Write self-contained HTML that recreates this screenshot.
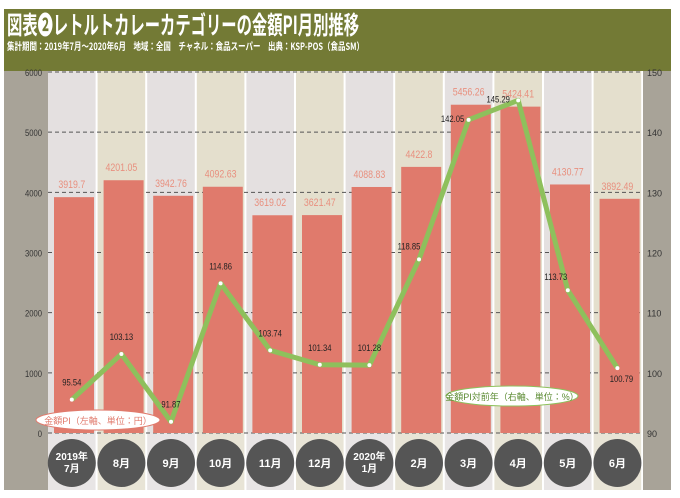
<!DOCTYPE html><html><head><meta charset="utf-8"><style>
body{margin:0;width:680px;height:493px;background:#fff;overflow:hidden;font-family:"Liberation Sans","Noto Sans CJK JP",sans-serif}
</style></head><body>
<svg width="680" height="493" xmlns="http://www.w3.org/2000/svg" font-family="Liberation Sans, Noto Sans CJK JP, sans-serif">
<rect x="4" y="9" width="667" height="62" fill="#737a35"/>
<text x="7" y="34" font-size="25" font-weight="bold" fill="#fff" textLength="352" lengthAdjust="spacingAndGlyphs" font-family="Noto Sans CJK JP, sans-serif">図表❷レトルトカレーカテゴリーの金額PI月別推移</text>
<text x="7" y="50" font-size="10" font-weight="bold" fill="#fff" textLength="357" lengthAdjust="spacingAndGlyphs" font-family="Noto Sans CJK JP, sans-serif">集計期間：2019年7月～2020年6月　地域：全国　チャネル：食品スーパー　出典：KSP-POS（食品SM）</text>
<rect x="4" y="71" width="44" height="419" fill="#a8a398"/>
<rect x="643" y="71" width="28" height="419" fill="#a8a398"/>
<g id="cols"></g>
<g id="grid" stroke="#555" stroke-dasharray="4,3" stroke-width="1"></g>
<g id="bars"></g>
<g id="line"></g>
<g id="lab"></g>
</svg>
<script>
const ns="http://www.w3.org/2000/svg";
function el(p,t,a,txt){const e=document.createElementNS(ns,t);for(const k in a)e.setAttribute(k,a[k]);if(txt!==undefined)e.textContent=txt;document.getElementById(p).appendChild(e);return e;}
const X0=48,W=49.6,Y0=433,PX=361/6000;
const bars=[3919.7,4201.05,3942.76,4092.63,3619.02,3621.47,4088.83,4422.8,5456.26,5424.41,4130.77,3892.49];
const pi=[95.54,103.13,91.87,114.86,103.74,101.34,101.28,118.85,142.05,145.29,113.73,100.79];
const mon=["2019年|7月","8月","9月","10月","11月","12月","2020年|1月","2月","3月","4月","5月","6月"];
for(let i=0;i<12;i++){const x=X0+W*i;
el("cols","rect",{x:x,y:71,width:W-2,height:Y0-71,fill:i%2?"#e4dfcd":"#e4e0e0"});
el("cols","rect",{x:x,y:Y0,width:W-2,height:57,fill:i%2?"#e8e4d6":"#e8e5e5"});
}
for(let v=0;v<=6000;v+=1000){const y=Y0-v*PX;el("grid","line",{x1:X0,x2:643,y1:y,y2:y});
el("lab","text",{x:42,y:y+4,"font-size":9,"text-anchor":"end",fill:"#333",transform:`translate(${42},0) scale(0.85,1) translate(${-42},0)`},v);
el("lab","text",{x:647,y:y+4,"font-size":9,fill:"#333"},90+v/100);}
const pts=[];
for(let i=0;i<12;i++){const x=X0+W*i,cx=x+W/2-1,h=bars[i]*PX;
el("bars","rect",{x:x+6,y:Y0-h,width:40,height:h,fill:"#e07a6c"});
el("lab","text",{x:cx,y:Y0-h-9,"font-size":11,"text-anchor":"middle",fill:"#e8907f",transform:`translate(${cx},0) scale(0.8,1) translate(${-cx},0)`},bars[i]);
const py=Y0-(pi[i]-90)*361/60;pts.push(cx+","+py);
el("lab","circle",{cx:cx,cy:463,r:24,fill:"#555"});
const m=mon[i].split("|");
if(m.length==1)el("lab","text",{x:cx,y:467,"font-size":11,"font-weight":"bold","text-anchor":"middle",fill:"#fff"},m[0]);
else{el("lab","text",{x:cx,y:460,"font-size":10,"font-weight":"bold","text-anchor":"middle",fill:"#fff"},m[0]);el("lab","text",{x:cx,y:472,"font-size":10,"font-weight":"bold","text-anchor":"middle",fill:"#fff"},m[1]);}
}
el("line","polyline",{points:pts.join(" "),fill:"none",stroke:"#8ec05c","stroke-width":5,"stroke-linejoin":"round"});
const off=[[0,-14],[0,-14],[0,-14],[0,-14],[0,-14],[0,-14],[0,-14],[-10,-10],[-16,2],[-20,2],[-12,-10],[4,14]];
pts.forEach((p,i)=>{const [x,y]=p.split(",").map(Number);el("line","circle",{cx:x,cy:y,r:2,fill:"#fff"});
const tx=x+off[i][0];
el("lab","text",{x:tx,y:y+off[i][1],"font-size":9,"text-anchor":"middle",fill:"#222",transform:`translate(${tx},0) scale(0.85,1) translate(${-tx},0)`},pi[i]);});
el("lab","ellipse",{cx:98,cy:420,rx:62,ry:10,fill:"#fff",stroke:"#e07a6c","stroke-width":1});
el("lab","text",{x:98,y:424,"font-size":9,"text-anchor":"middle",fill:"#e07a6c"},"金額PI（左軸、単位：円）");
el("lab","ellipse",{cx:512,cy:396,rx:66,ry:10,fill:"#fff",stroke:"#8ec05c","stroke-width":1});
el("lab","text",{x:512,y:400,"font-size":9,"text-anchor":"middle",fill:"#5a8a30"},"金額PI対前年（右軸、単位：%）");
</script>
</body></html>
